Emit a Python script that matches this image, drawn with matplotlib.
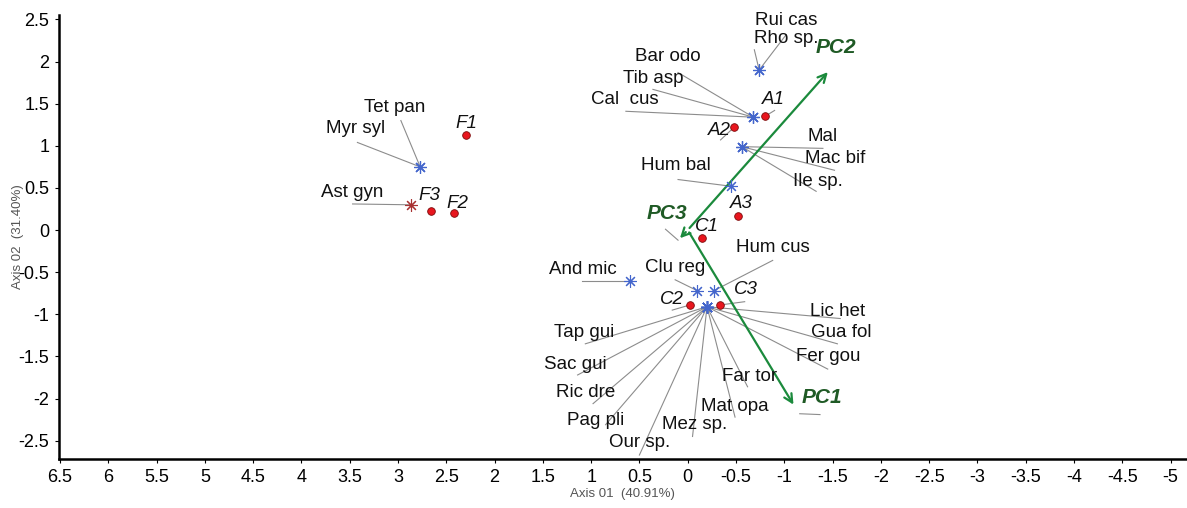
import matplotlib
matplotlib.use('Agg')
import matplotlib.pyplot as plt

plt.rcParams['font.family'] = ['Liberation Sans', 'DejaVu Sans']

# sites (red dots)
site_names = ['F1', 'F2', 'F3', 'A1', 'A2', 'A3', 'C1', 'C2', 'C3']
site_x = [2.30, 2.42, 2.66, -0.80, -0.48, -0.52, -0.15, -0.02, -0.33]
site_y = [1.13, 0.20, 0.225, 1.35, 1.22, 0.17, -0.09, -0.89, -0.89]

# species (asterisks)
species_names = ['Tet pan', 'Myr syl', 'Ast gyn', 'Rui cas', 'Rho sp.', 'Bar odo', 'Tib asp',
                 'Cal  cus', 'Mal', 'Mac bif', 'Ile sp.', 'Hum bal', 'And mic', 'Clu reg',
                 'Hum cus', 'Lic het', 'Gua fol', 'Fer gou', 'Far tor', 'Mat opa', 'Mez sp.',
                 'Our sp.', 'Pag pli', 'Ric dre', 'Sac gui', 'Tap gui']
species_x = [2.77, 2.77, 2.87, -0.74, -0.74, -0.68, -0.68, -0.68, -0.56, -0.56, -0.56, -0.45,
             0.60, -0.10, -0.27, -0.20, -0.20, -0.20, -0.20, -0.20, -0.20, -0.20, -0.20, -0.20,
             -0.20, -0.20]
species_y = [0.75, 0.75, 0.30, 1.90, 1.90, 1.34, 1.34, 1.34, 0.99, 0.99, 0.99, 0.52, -0.60,
             -0.72, -0.72, -0.91, -0.91, -0.91, -0.91, -0.91, -0.91, -0.91, -0.91, -0.91,
             -0.91, -0.91]

# environmental vectors
pc_names = ['PC1', 'PC2', 'PC3']
pc_x = [-1.11, -1.47, 0.10]
pc_y = [-2.10, 1.90, -0.12]

# label placement (text centre, leader-line end)
species_label = {
    'Tet pan': ((3.03, 1.46), (2.97, 1.30)), 'Myr syl': ((3.44, 1.20), (3.42, 1.04)),
    'Ast gyn': ((3.47, 0.45), (3.47, 0.31)), 'Rui cas': ((-1.02, 2.49), (-1.02, 2.32)),
    'Rho sp.': ((-1.02, 2.27), (-0.69, 2.14)), 'Bar odo': ((0.21, 2.06), (0.10, 1.87)),
    'Tib asp': ((0.36, 1.80), (0.36, 1.67)), 'Cal  cus': ((0.65, 1.55), (0.64, 1.41)),
    'Mal': ((-1.40, 1.11), (-1.40, 0.97)), 'Mac bif': ((-1.53, 0.85), (-1.52, 0.71)),
    'Ile sp.': ((-1.35, 0.58), (-1.33, 0.46)), 'Hum bal': ((0.12, 0.77), (0.10, 0.60)),
    'And mic': ((1.09, -0.47), (1.09, -0.60)), 'Clu reg': ((0.13, -0.45), (0.13, -0.59)),
    'Hum cus': ((-0.88, -0.21), (-0.88, -0.36)), 'Lic het': ((-1.55, -0.97), (-1.58, -1.05)),
    'Gua fol': ((-1.59, -1.22), (-1.55, -1.35)), 'Fer gou': ((-1.45, -1.50), (-1.45, -1.65)),
    'Far tor': ((-0.64, -1.74), (-0.62, -1.86)), 'Mat opa': ((-0.49, -2.09), (-0.49, -2.22)),
    'Mez sp.': ((-0.07, -2.31), (-0.05, -2.45)), 'Our sp.': ((0.50, -2.52), (0.50, -2.67)),
    'Pag pli': ((0.95, -2.26), (0.85, -2.31)), 'Ric dre': ((1.06, -1.93), (0.98, -2.06)),
    'Sac gui': ((1.16, -1.59), (1.14, -1.72)), 'Tap gui': ((1.07, -1.22), (1.06, -1.35)),
}
site_label = {
    'F1': ((2.29, 1.26), None), 'F3': ((2.67, 0.41), None), 'F2': ((2.39, 0.31), None),
    'A1': ((-0.89, 1.55), (-0.90, 1.42)), 'A2': ((-0.33, 1.18), (-0.34, 1.07)),
    'A3': ((-0.56, 0.32), None), 'C1': ((-0.20, 0.04), None),
    'C2': ((0.16, -0.82), (0.16, -0.95)), 'C3': ((-0.60, -0.71), (-0.59, -0.85)),
}
pc_label = {
    'PC1': ((-1.39, -1.99), ((-1.16, -2.18), (-1.37, -2.19))),
    'PC2': ((-1.53, 2.17), None),
    'PC3': ((0.21, 0.20), ((0.23, 0.01), (0.10, -0.12))),
}

fig = plt.figure(figsize=(11.87, 5.08), dpi=100)
ax = fig.add_axes([0.0497, 0.096, 0.9503, 0.874])

line_col = '#8c8c8c'

# leader lines first
for name, x, y in zip(species_names, species_x, species_y):
    (tx, ty), (lx, ly) = species_label[name]
    ax.plot([x, lx], [y, ly], color=line_col, lw=0.8, zorder=1)
    ax.text(tx, ty, name, fontsize=13.5, ha='center', va='center', color='#111111', zorder=4)

for name, x, y in zip(site_names, site_x, site_y):
    (tx, ty), end = site_label[name]
    if end is not None:
        ax.plot([x, end[0]], [y, end[1]], color=line_col, lw=0.8, zorder=1)
    ax.text(tx, ty, name, fontsize=13.5, style='italic', ha='center', va='center',
            color='#111111', zorder=4)

# arrows from origin
for name, x, y in zip(pc_names, pc_x, pc_y):
    ax.annotate('', xy=(x, y), xytext=(0, 0),
                arrowprops=dict(arrowstyle='->,head_length=0.6,head_width=0.3',
                                color='#1b8a3c', lw=1.6), zorder=2)
    (tx, ty), seg = pc_label[name]
    if seg is not None:
        ax.plot([seg[0][0], seg[1][0]], [seg[0][1], seg[1][1]], color=line_col, lw=0.8, zorder=1)
    ax.text(tx, ty, name, fontsize=15, style='italic', fontweight='bold', ha='center',
            va='center', color='#1f5a25', zorder=4)

sp_colors = ['#a83232' if n == 'Ast gyn' else '#4466cc' for n in species_names]
for x, y, c in zip(species_x, species_y, sp_colors):
    ax.plot(x, y, marker=(8, 2, 0), ms=9, mew=0.8, color=c, ls='none', zorder=3)

ax.plot(site_x, site_y, 'o', ms=5.5, mfc='#e8161e', mec='#7a0a0a', mew=0.6, ls='none', zorder=3)

ax.set_xlim(6.51, -5.17)
ax.set_ylim(-2.72, 2.55)
xt = [6.5 - 0.5 * i for i in range(24)]
ax.set_xticks(xt)
ax.set_xticklabels(['%g' % v for v in xt])
yt = [2.5 - 0.5 * i for i in range(11)]
ax.set_yticks(yt)
ax.set_yticklabels(['%g' % v for v in yt])
ax.tick_params(labelsize=13, length=3, width=0.8, pad=4)

for s in ['top', 'right']:
    ax.spines[s].set_visible(False)
for s in ['left', 'bottom']:
    ax.spines[s].set_linewidth(1.8)

fig.text(0.524, 1 - 494 / 508, 'Axis 01  (40.91%)', fontsize=9.5, color='#555555',
         ha='center', va='center')
fig.text(18 / 1187, 1 - 237 / 508, 'Axis 02  (31.40%)', fontsize=9.5, color='#555555',
         ha='center', va='center', rotation=90)

fig.savefig('out.png', dpi=100)
